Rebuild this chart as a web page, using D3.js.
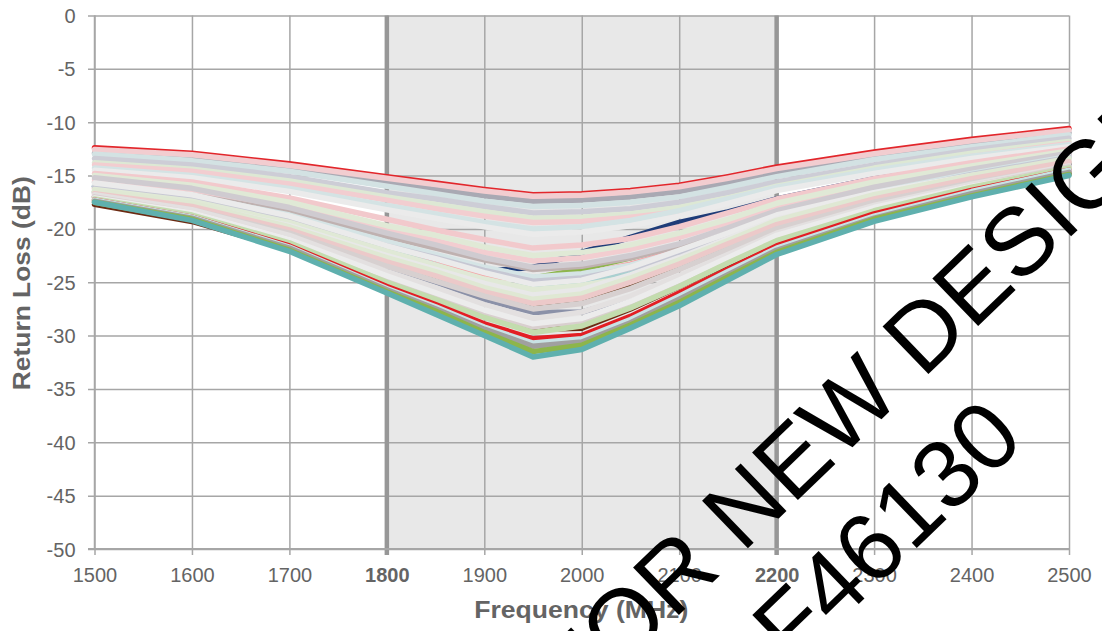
<!DOCTYPE html>
<html><head><meta charset="utf-8">
<script src="https://cdn.jsdelivr.net/npm/d3@7"></script>
<style>html,body{margin:0;padding:0;background:#fff;} svg{display:block;}</style>
</head><body>
<svg id="chart" width="1102" height="631"></svg>
<script>
// ---------- data ----------
const frequencies = [1500,1600,1700,1800,1850,1900,1950,2000,2050,2100,2150,2200,2300,2400,2500];
const xTickValues = [1500,1600,1700,1800,1900,2000,2100,2200,2300,2400,2500];
const boldXTicks = [1800,2200];
const yTickValues = [0,-5,-10,-15,-20,-25,-30,-35,-40,-45,-50];
const bandRange = [1800,2200];
const xTitle = "Frequency (MHz)";
const yTitle = "Return Loss (dB)";
const watermarkLine1 = "NOT FOR NEW DESIGN";
const watermarkLine2 = "F46130";

// series in drawing order (later ones on top)
const seriesColors = [
  "#1f3c78","#8db54b","#f4a3a6","#a9d0d0","#6b2a12","#5b2e0e","#8b91a8","#bfb1b0","#e2262b","#a9a9b3",
  "#f2cdd0","#d3e2e3","#cdcdd6","#dde8d4","#f2cdd0","#d4e3e4","#ebebeb","#f2c9cc","#f2cdd0",
  "#e0e9d6","#cfcbd0","#d5e4e5","#c6c7d3","#ebebeb","#e0e9d6","#e8e8e8","#dfe8d3",
  "#ecc9c9","#d7d0d0","#e3e0e0","#d9cfcf","#ececec","#c3dcae","#e31e24","#c8e2e4","#a0a0a0",
  "#8db54b","#5fb0ae"
];
const seriesValues = [
  [-16.0,-17.1,-19.0,-21.8,-22.9,-24.0,-23.6,-22.2,-20.8,-19.4,-18.4,-17.2,-15.3,-14.0,-13.0],
  [-16.5,-17.6,-19.5,-22.3,-23.5,-24.5,-24.6,-23.8,-22.7,-21.5,-20.2,-18.9,-16.7,-15.0,-13.8],
  [-16.2,-17.3,-19.2,-22.0,-23.3,-24.4,-24.8,-24.3,-23.3,-22.0,-20.6,-19.2,-16.9,-15.1,-13.8],
  [-16.0,-17.1,-19.0,-22.0,-23.4,-24.9,-25.6,-25.2,-24.0,-22.6,-21.0,-19.5,-17.0,-15.2,-13.9],
  [-17.7,-19.3,-21.9,-24.8,-26.4,-28.2,-29.4,-29.3,-27.5,-25.4,-23.3,-21.4,-18.5,-16.4,-14.8],
  [-17.0,-18.2,-20.4,-23.3,-24.7,-26.1,-27.2,-26.7,-25.2,-23.5,-21.6,-19.8,-17.4,-15.5,-13.9],
  [-16.6,-17.9,-20.3,-23.5,-25.0,-26.6,-27.8,-27.8,-26.5,-24.6,-22.6,-20.7,-17.6,-15.6,-14.0],
  [-15.6,-16.6,-18.3,-20.7,-21.8,-22.9,-23.8,-23.5,-22.7,-21.6,-20.1,-18.5,-16.3,-14.6,-13.1],
  [-12.4,-12.9,-13.9,-15.1,-15.7,-16.3,-16.8,-16.7,-16.4,-15.9,-15.1,-14.2,-12.8,-11.6,-10.6],
  [-12.9,-13.4,-14.4,-15.7,-16.3,-16.9,-17.4,-17.3,-17.0,-16.5,-15.7,-14.7,-13.2,-12.0,-11.0],
  [-12.55,-13.05,-14.05,-15.25,-15.85,-16.45,-16.95,-16.85,-16.55,-16.05,-15.25,-14.35,-12.95,-11.75,-10.75],
  [-13.0,-13.6,-14.6,-16.0,-16.7,-17.4,-17.9,-17.8,-17.5,-17.0,-16.1,-15.1,-13.5,-12.3,-11.2],
  [-13.4,-14.0,-15.1,-16.6,-17.2,-17.9,-18.5,-18.4,-18.1,-17.5,-16.6,-15.6,-14.0,-12.6,-11.5],
  [-13.8,-14.4,-15.5,-17.0,-17.7,-18.4,-19.0,-18.9,-18.6,-18.0,-17.1,-16.0,-14.3,-12.9,-11.8],
  [-14.0,-14.6,-15.8,-17.3,-18.1,-18.8,-19.4,-19.3,-18.9,-18.4,-17.4,-16.3,-14.6,-13.2,-12.0],
  [-14.3,-15.0,-16.2,-17.8,-18.6,-19.4,-20.0,-19.8,-19.2,-18.3,-17.2,-16.1,-14.5,-13.2,-12.1],
  [-14.5,-15.2,-16.5,-18.2,-19.0,-19.8,-20.5,-20.3,-19.7,-18.8,-17.6,-16.4,-14.8,-13.4,-12.3],
  [-14.8,-15.6,-17.1,-19.1,-20.1,-21.0,-21.8,-21.5,-20.9,-19.8,-18.5,-17.2,-15.3,-13.8,-12.5],
  [-15.4,-16.3,-17.9,-20.1,-21.1,-22.2,-23.0,-22.7,-21.9,-20.8,-19.4,-17.9,-15.8,-14.3,-13.0],
  [-15.0,-15.9,-17.5,-19.7,-20.6,-21.7,-22.5,-22.2,-21.5,-20.4,-19.1,-17.6,-15.6,-14.1,-12.7],
  [-15.2,-16.2,-18.0,-20.4,-21.5,-22.7,-23.6,-23.3,-22.5,-21.4,-19.9,-18.3,-16.1,-14.4,-12.9],
  [-15.9,-16.9,-18.7,-21.2,-22.4,-23.6,-24.5,-24.2,-23.4,-22.1,-20.5,-18.9,-16.6,-14.8,-13.2],
  [-16.1,-17.2,-19.0,-21.6,-22.7,-23.9,-24.9,-24.6,-23.7,-22.5,-20.8,-19.1,-16.8,-14.9,-13.3],
  [-15.7,-16.8,-18.8,-21.6,-22.8,-24.1,-25.2,-24.8,-23.6,-22.0,-20.4,-18.7,-16.6,-15.0,-13.8],
  [-16.3,-17.4,-19.4,-22.1,-23.4,-24.7,-25.7,-25.3,-24.5,-23.1,-21.4,-19.6,-17.2,-15.2,-13.5],
  [-16.5,-17.7,-19.7,-22.5,-23.8,-25.1,-26.2,-25.7,-24.3,-22.7,-20.9,-19.1,-16.9,-15.1,-13.6],
  [-16.4,-17.6,-19.8,-22.7,-24.0,-25.5,-26.6,-26.1,-24.6,-22.9,-21.1,-19.2,-16.8,-15.0,-13.4],
  [-16.7,-17.9,-20.1,-23.1,-24.4,-25.9,-27.0,-26.5,-25.0,-23.3,-21.4,-19.6,-17.2,-15.3,-13.7],
  [-16.9,-18.2,-20.4,-23.5,-24.9,-26.3,-27.5,-27.0,-25.6,-23.8,-21.9,-20.0,-17.5,-15.7,-14.2],
  [-16.8,-18.2,-20.6,-24.0,-25.5,-27.1,-28.4,-27.8,-26.3,-24.4,-22.4,-20.4,-17.8,-15.8,-14.1],
  [-17.0,-18.5,-21.0,-24.6,-26.2,-27.9,-29.2,-28.6,-26.9,-25.0,-22.9,-20.8,-18.1,-16.0,-14.2],
  [-17.1,-18.5,-21.0,-24.4,-26.0,-27.6,-28.9,-28.4,-26.8,-24.8,-22.7,-20.6,-18.0,-16.0,-14.4],
  [-17.2,-18.7,-21.3,-25.0,-26.6,-28.3,-29.7,-29.1,-27.4,-25.4,-23.2,-21.1,-18.3,-16.1,-14.3],
  [-17.3,-18.9,-21.6,-25.4,-27.1,-28.9,-30.3,-30.0,-28.2,-26.0,-23.8,-21.6,-18.6,-16.4,-14.5],
  [-17.3,-18.9,-21.7,-25.6,-27.3,-29.2,-30.7,-30.3,-28.5,-26.3,-24.0,-21.8,-18.8,-16.5,-14.5],
  [-17.4,-19.0,-21.8,-25.7,-27.5,-29.4,-31.0,-30.6,-28.8,-26.6,-24.3,-22.0,-19.0,-16.7,-14.7],
  [-17.5,-19.1,-22.0,-25.9,-27.7,-29.7,-31.5,-30.9,-29.0,-26.9,-24.5,-22.2,-19.1,-16.9,-14.9],
  [-17.5,-19.2,-22.1,-26.0,-28.0,-30.0,-32.0,-31.3,-29.3,-27.2,-24.8,-22.4,-19.3,-17.0,-15.0]
];

// ---------- drawing ----------
const svg = d3.select("#chart");
const plot = {left: 94.5, right: 1069, top: 15.5, bottom: 549};
const x = d3.scaleLinear().domain([1500, 2500]).range([plot.left, plot.right]);
const y = d3.scaleLinear().domain([0, -50]).range([plot.top, plot.bottom]);
const gridColor = "#a6a6a6";
const textColor = "#646464";
const font = "'Liberation Sans', Arial, sans-serif";

// shaded band
svg.append("rect")
  .attr("x", x(bandRange[0])).attr("y", plot.top)
  .attr("width", x(bandRange[1]) - x(bandRange[0]))
  .attr("height", plot.bottom - plot.top)
  .attr("fill", "#e8e8e8");

// horizontal grid + left ticks
const yAxis = d3.axisLeft(y).tickValues(yTickValues).tickSize(-(plot.right - plot.left)).tickSizeOuter(0)
  .tickFormat(d => String(d));
const gy = svg.append("g").attr("transform", `translate(${plot.left},0)`).call(yAxis);
gy.select(".domain").remove();
gy.selectAll(".tick line").attr("x1", -6.5).attr("stroke", gridColor).attr("stroke-width", 1.5);
gy.selectAll(".tick text").attr("fill", textColor).attr("font-family", font).attr("font-size", 20)
  .attr("x", -19).attr("dy", "0.35em");

// vertical grid + bottom ticks
const xAxis = d3.axisBottom(x).tickValues(xTickValues).tickSize(-(plot.bottom - plot.top)).tickSizeOuter(0)
  .tickFormat(d => String(d));
const gx = svg.append("g").attr("transform", `translate(0,${plot.bottom})`).call(xAxis);
gx.select(".domain").remove();
gx.selectAll(".tick line").attr("y1", 6).attr("stroke", gridColor).attr("stroke-width", 1.5);
gx.selectAll(".tick text").attr("fill", textColor).attr("font-family", font).attr("font-size", 20)
  .attr("y", 33).attr("dy", null)
  .attr("font-weight", d => boldXTicks.includes(d) ? "bold" : "normal");

// thick band borders
svg.append("g").selectAll("line").data(bandRange).join("line")
  .attr("x1", d => x(d)).attr("x2", d => x(d))
  .attr("y1", plot.top).attr("y2", plot.bottom + 6)
  .attr("stroke", "#979797").attr("stroke-width", 4.5);

// axis lines
svg.append("line").attr("x1", plot.left).attr("x2", plot.left).attr("y1", plot.top).attr("y2", plot.bottom)
  .attr("stroke", gridColor).attr("stroke-width", 1.5);
svg.append("line").attr("x1", plot.left - 6.5).attr("x2", plot.right).attr("y1", plot.bottom).attr("y2", plot.bottom)
  .attr("stroke", gridColor).attr("stroke-width", 2);

// curves
const line = d3.line().x((d, i) => x(frequencies[i])).y(d => y(d));
svg.append("g").selectAll("path").data(seriesValues).join("path")
  .attr("d", d => line(d))
  .attr("fill", "none")
  .attr("stroke", (d, i) => seriesColors[i])
  .attr("stroke-width", 5.5)
  .attr("stroke-linejoin", "round")
  .attr("stroke-linecap", "round");

// axis titles
svg.append("text").text(xTitle)
  .attr("x", (plot.left + plot.right) / 2 - 0.5).attr("y", 618)
  .attr("text-anchor", "middle").attr("font-family", font).attr("font-weight", "bold")
  .attr("font-size", 23).attr("fill", textColor)
  .attr("textLength", 214).attr("lengthAdjust", "spacingAndGlyphs");
svg.append("text").text(yTitle)
  .attr("transform", `translate(30,${(plot.top + plot.bottom) / 2 + 1}) rotate(-90)`)
  .attr("text-anchor", "middle").attr("font-family", font).attr("font-weight", "bold")
  .attr("font-size", 23).attr("fill", textColor)
  .attr("textLength", 214).attr("lengthAdjust", "spacingAndGlyphs");

// watermark
const wm = svg.append("g").attr("transform", "rotate(-44)")
  .attr("font-family", font).attr("font-size", 96).attr("fill", "#000");
const t1 = wm.append("text").attr("y", 914).text(watermarkLine1);
const prefix = t1.node().getSubStringLength(0, watermarkLine1.indexOf("DESIGN"));
t1.attr("x", 400 - prefix);
wm.append("text").attr("y", 1031).attr("x", 106).text(watermarkLine2);
</script>
</body></html>
